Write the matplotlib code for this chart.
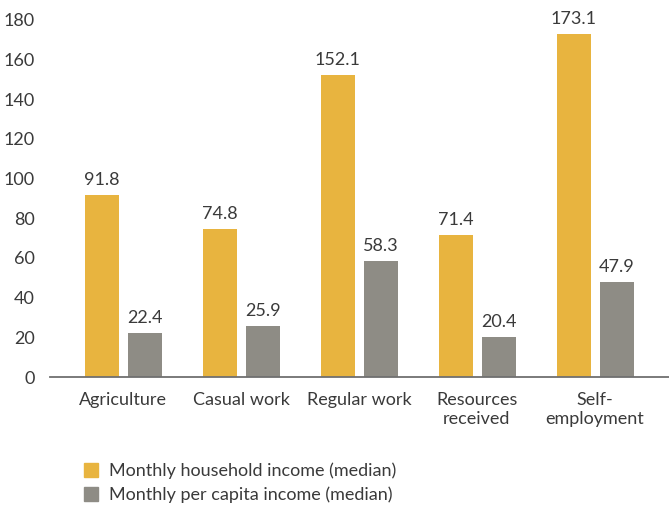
import matplotlib
matplotlib.use("Agg")
import matplotlib.pyplot as plt
import numpy as np
from matplotlib.patches import Patch

categories = ["Agriculture", "Casual work", "Regular work", "Resources\nreceived", "Self-\nemployment"]
household = [91.8, 74.8, 152.1, 71.4, 173.1]
per_capita = [22.4, 25.9, 58.3, 20.4, 47.9]
series_names = ["Monthly household income (median)", "Monthly per capita income (median)"]
yticks = [0, 20, 40, 60, 80, 100, 120, 140, 160, 180]

YELLOW = "#E8B43F"
GRAY = "#8E8C85"
TXT = "#3a3a3a"
FS = 13

plt.rcParams['font.family'] = ['Lato', 'DejaVu Sans']

fig = plt.figure(figsize=(6.69, 5.07), dpi=100)
ax = fig.add_axes([0.0747, 0.2564, 0.9253, 0.7042])

x = np.arange(len(categories))
w = 0.29
b1 = ax.bar(x - 0.178, household, width=w, color=YELLOW)
b2 = ax.bar(x + 0.186, per_capita, width=w, color=GRAY)

for bars, vals in ((b1, household), (b2, per_capita)):
    for r, v in zip(bars, vals):
        ax.annotate(f"{v:.1f}", (r.get_x() + r.get_width() / 2, v), xytext=(0, 5),
                    textcoords="offset points", ha="center", va="bottom",
                    fontsize=FS, color=TXT)

ax.set_xlim(-0.62, 4.63)
ax.set_ylim(0, 180)
ax.set_yticks(yticks)
ax.set_xticks(x)
ax.set_xticklabels(categories, fontsize=FS, color=TXT, linespacing=1.2)
ax.tick_params(axis='y', length=0, labelsize=FS, labelcolor=TXT, pad=11)
ax.tick_params(axis='x', length=0, pad=11)
for s in ("top", "right", "left"):
    ax.spines[s].set_visible(False)
ax.spines["bottom"].set_color("#707070")
ax.spines["bottom"].set_linewidth(1.3)

handles = [Patch(color=YELLOW), Patch(color=GRAY)]
fig.legend(handles, series_names, loc="upper left", bbox_to_anchor=(0.125, 0.087),
           frameon=False, fontsize=FS, labelcolor=TXT, handlelength=0.8, handleheight=0.8,
           handletextpad=0.6, labelspacing=0.4, borderaxespad=0, borderpad=0)

fig.savefig("out.png", dpi=100)
